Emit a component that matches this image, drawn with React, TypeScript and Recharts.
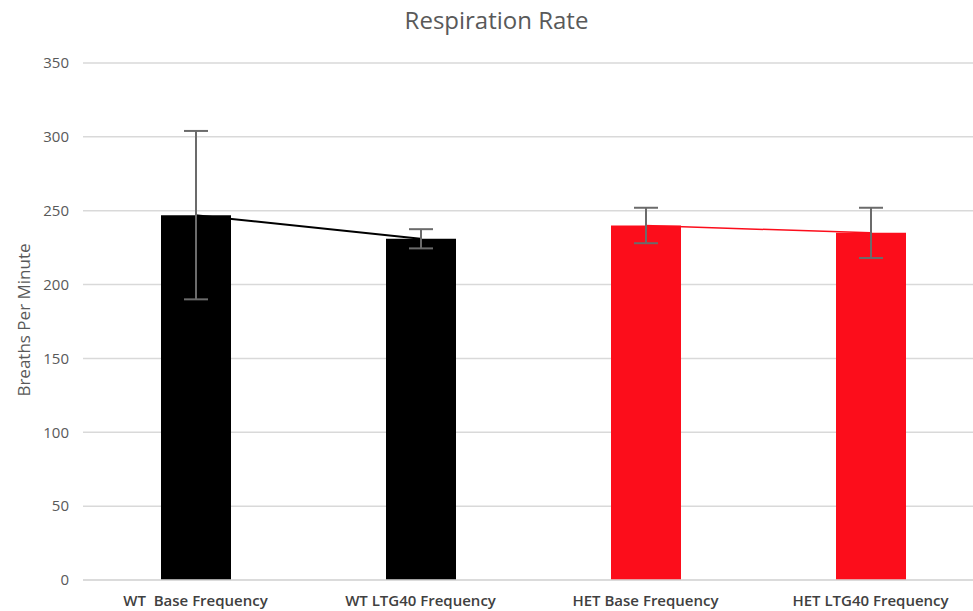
import { Bar, Cell, ComposedChart, ErrorBar, Line, CartesianGrid, XAxis, YAxis } from 'recharts';

const categories = ['WT\u00a0 Base Frequency', 'WT LTG40 Frequency', 'HET Base Frequency', 'HET LTG40 Frequency'];
const breaths = [247, 231, 240, 235];
const errors = [57, 6.5, 12, 17];
const barColors = ['#000000', '#000000', '#FC0D1B', '#FC0D1B'];
const wtTrend = [247, 231, null, null];
const hetTrend = [null, null, 240, 235];
const yTicks = [0, 50, 100, 150, 200, 250, 300, 350];

const data = categories.map((name, i) => ({
  name,
  value: breaths[i],
  err: errors[i],
  wt: wtTrend[i],
  het: hetTrend[i],
}));

const font = '"Open Sans", "Noto Sans", sans-serif';
const textColor = '#595959';

export default function App() {
  return (
    <div
      style={{
        position: 'fixed',
        left: 0,
        top: 0,
        width: 973,
        height: 611,
        overflow: 'hidden',
        background: '#fff',
        fontFamily: font,
      }}
    >
      <div
        style={{
          position: 'absolute',
          top: 3,
          left: 0,
          width: 993,
          textAlign: 'center',
          fontSize: 24,
          color: textColor,
        }}
      >
        Respiration Rate
      </div>
      <div
        style={{
          position: 'absolute',
          left: 23,
          top: 320,
          transform: 'translate(-50%, -50%) rotate(-90deg)',
          whiteSpace: 'nowrap',
          fontSize: 17,
          color: textColor,
        }}
      >
        Breaths Per Minute
      </div>
      <ComposedChart
        width={1000}
        height={611}
        data={data}
        margin={{ top: 63, right: 17, bottom: 0, left: 0 }}
      >
        <CartesianGrid vertical={false} stroke="#d9d9d9" strokeWidth={1.5} />
        <XAxis
          dataKey="name"
          height={31}
          axisLine={{ stroke: '#d9d9d9', strokeWidth: 1.5 }}
          tickLine={false}
          tickSize={0}
          tickMargin={15}
          interval={0}
          tick={{ fill: '#404040', fontSize: 15, fontWeight: 600, fontFamily: font }}
        />
        <YAxis
          width={83}
          domain={[0, 350]}
          ticks={yTicks}
          axisLine={false}
          tickLine={false}
          tickSize={0}
          tickMargin={14}
          tick={{ fill: textColor, fontSize: 15, fontFamily: font }}
        />
        <Line dataKey="wt" type="linear" stroke="#000000" strokeWidth={2} dot={false} activeDot={false} isAnimationActive={false} />
        <Line dataKey="het" type="linear" stroke="#FC0D1B" strokeWidth={1.5} dot={false} activeDot={false} isAnimationActive={false} />
        <Bar dataKey="value" barSize={70} isAnimationActive={false}>
          {data.map((d, i) => (
            <Cell key={d.name} fill={barColors[i]} />
          ))}
          <ErrorBar dataKey="err" width={12} stroke="#6b6b6b" strokeWidth={2} />
        </Bar>
      </ComposedChart>
    </div>
  );
}
